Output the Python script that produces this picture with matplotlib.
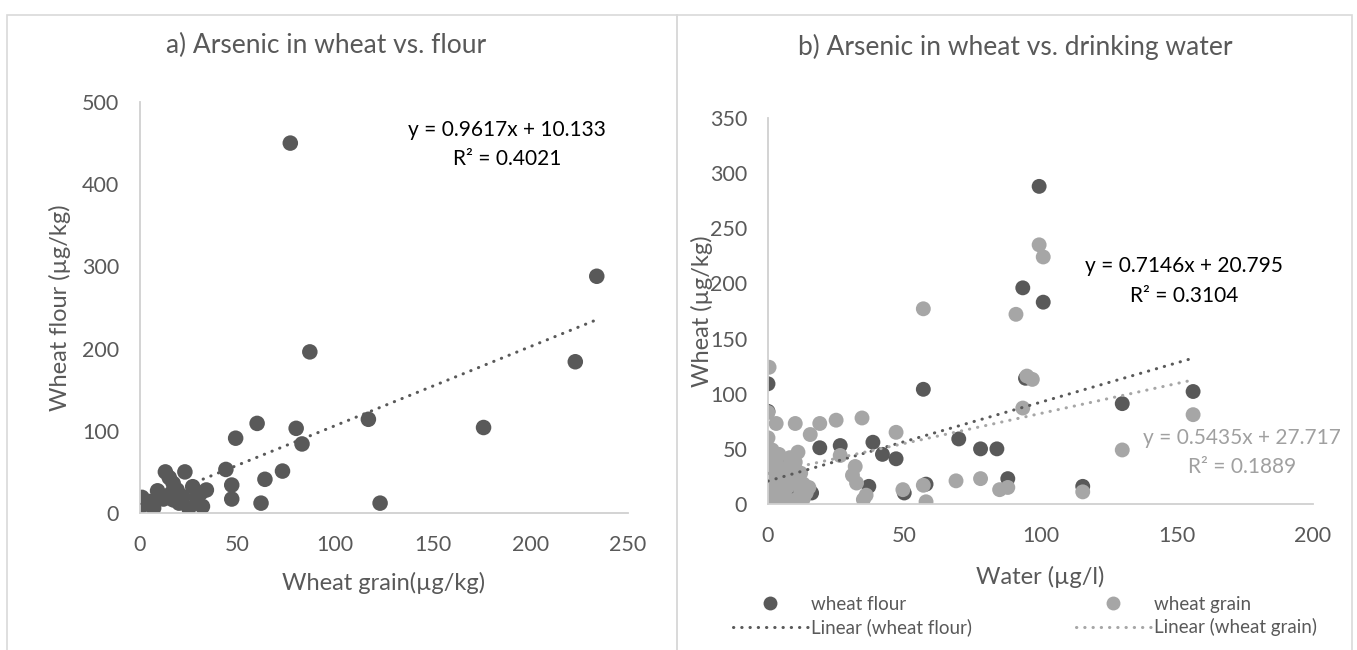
import numpy as np
import matplotlib.pyplot as plt
from matplotlib.lines import Line2D

plt.rcParams['font.family'] = ['Lato', 'DejaVu Sans']

# a) wheat grain vs wheat flour (ug/kg)
grain_a = [77, 87, 60, 49, 80, 83, 44, 47, 47, 64, 73, 62, 23, 13, 15, 17, 1, 1, 7, 9,
           16, 17, 22, 25, 27, 32, 34, 31, 12, 19, 20, 234, 223, 117, 176, 123, 5, 29]
flour_a = [450, 196, 109, 91, 103, 84, 53, 34, 17, 41, 51, 12, 50, 50, 43, 36, 19, 9, 6, 27,
           24, 16, 20, 6, 32, 8, 28, 24, 17, 28, 12, 288, 184, 114, 104, 12, 14, 18]
slope_a, icpt_a, r2_a = 0.9617, 10.133, 0.4021

# b) drinking water (ug/l) vs wheat flour / wheat grain (ug/kg)
water_flour = [0, 0, 19, 26.5, 38.5, 42, 47, 57, 58, 50, 37, 70, 78, 84, 88, 16, 93.5, 99.5,
               101, 94.5, 130, 156, 115.5, 0, 4.4, 2, 5, 8, 10, 3, 12, 6]
flour_b = [109, 84, 51, 53, 56, 45, 41, 104, 18, 10, 16, 59, 50, 50, 23, 10, 196, 288,
           183, 114, 91, 102, 16, 44, 42, 30, 20, 10, 15, 5, 12, 35]
water_grain = [0.4, 0, 3, 10, 19, 25, 34.5, 15.5, 47, 0, 1.5, 11, 26.5, 32, 31, 32.5, 36, 35,
               49.5, 57, 58, 69, 78, 85, 88, 91, 57, 99.5, 101, 95, 97, 93.5, 130, 156, 115.5,
               0, 1, 2, 0, 3, 1, 4, 2, 5, 6, 7, 8, 9, 10, 11, 12, 13, 14, 6, 4, 8, 10, 12,
               5, 9, 0, 0, 3, 7, 11, 15, 13]
grain_b = [124, 83, 73, 73, 73, 76, 78, 63, 65, 60, 49, 47, 44, 34, 26, 19, 8, 4,
           13, 17, 2, 21, 23, 13, 15, 172, 177, 235, 224, 116, 113, 87, 49, 81, 11,
           40, 35, 30, 25, 20, 15, 10, 5, 3, 8, 15, 22, 30, 38, 5, 12, 18, 10, 28, 45, 42,
           25, 28, 2, 3, 10, 3, 38, 33, 20, 15, 5]
slope_f, icpt_f, r2_f = 0.7146, 20.795, 0.3104
slope_g, icpt_g, r2_g = 0.5435, 27.717, 0.1889

DARK = '#595959'
LIGHT = '#a6a6a6'
AXIS = '#d0d0d0'
TXT = '#595959'

W, H = 1357, 650
fig = plt.figure(figsize=(W / 100, H / 100), dpi=100)


def px_axes(x0, x1, ytop, ybot):
    return fig.add_axes([x0 / W, 1 - ybot / H, (x1 - x0) / W, (ybot - ytop) / H])


def style(ax):
    for s in ['top', 'right']:
        ax.spines[s].set_visible(False)
    for s in ['left', 'bottom']:
        ax.spines[s].set_color(AXIS)
        ax.spines[s].set_linewidth(1.3)
    ax.tick_params(length=0, labelsize=15.5, labelcolor=TXT)
    ax.tick_params(axis='y', pad=15)
    ax.tick_params(axis='x', pad=16)
    ax.set_facecolor('none')


dots = dict(linestyle=(0, (0.1, 2.6)), linewidth=2.2, dash_capstyle='round')

# panel borders
for x0, x1 in [(7, 677), (677, 1352)]:
    fig.add_artist(plt.Rectangle((x0 / W, -0.05), (x1 - x0) / W, 1 - 15 / H + 0.05,
                                 transform=fig.transFigure, fill=False,
                                 edgecolor='#d9d9d9', linewidth=1.2))

# ---- panel a
ax1 = px_axes(140, 628, 102, 513)
style(ax1)
ax1.scatter(grain_a, flour_a, s=125, color=DARK, edgecolors='none', zorder=2)
xa = np.array([min(grain_a), max(grain_a)])
ax1.plot(xa, slope_a * xa + icpt_a, color=DARK, zorder=3, **dots)
ax1.set_xlim(0, 250)
ax1.set_ylim(0, 500)
ax1.set_xticks(range(0, 251, 50))
ax1.set_yticks(range(0, 501, 100))
ax1.set_xlabel('Wheat grain(µg/kg)', fontsize=17, color=TXT, labelpad=12)
ax1.set_ylabel('Wheat flour (µg/kg)', fontsize=17, color=TXT, labelpad=8)
ax1.text(188, 466, f'y = {slope_a}x + {icpt_a}', fontsize=15, ha='center', va='center')
ax1.text(188, 431, f'R² = {r2_a}', fontsize=15, ha='center', va='center')
fig.text(326 / W, 1 - 45 / H, 'a) Arsenic in wheat vs. flour', fontsize=19,
         color=TXT, ha='center', va='center')

# ---- panel b
ax2 = px_axes(768, 1313, 118, 504)
style(ax2)
ax2.scatter(water_flour, flour_b, s=115, color=DARK, edgecolors='none', zorder=2)
ax2.scatter(water_grain, grain_b, s=115, color=LIGHT, edgecolors='none', zorder=2)
xf = np.array([0, max(water_flour)])
ax2.plot(xf, slope_f * xf + icpt_f, color=DARK, zorder=3, **dots)
xg = np.array([0, max(water_grain)])
ax2.plot(xg, slope_g * xg + icpt_g, color=LIGHT, zorder=3, **dots)
ax2.set_xlim(0, 200)
ax2.set_ylim(0, 350)
ax2.set_xticks(range(0, 201, 50))
ax2.set_yticks(range(0, 351, 50))
ax2.set_xlabel('Water (µg/l)', fontsize=17, color=TXT, labelpad=14)
ax2.set_ylabel('Wheat (µg/kg)', fontsize=17, color=TXT, labelpad=-2)
ax2.text(152.7, 216, f'y = {slope_f}x + {icpt_f}', fontsize=15, ha='center', va='center')
ax2.text(152.7, 188.6, f'R² = {r2_f}', fontsize=15, ha='center', va='center')
ax2.text(174, 60, f'y = {slope_g}x + {icpt_g}', fontsize=15, color='#a0a0a0',
         ha='center', va='center', clip_on=False)
ax2.text(174, 33.5, f'R² = {r2_g}', fontsize=15, color='#a0a0a0', ha='center', va='center')
fig.text(1015 / W, 1 - 47 / H, 'b) Arsenic in wheat vs. drinking water', fontsize=19,
         color=TXT, ha='center', va='center')

handles = [
    Line2D([], [], marker='o', linestyle='none', markersize=10, color=DARK, markeredgecolor='none'),
    Line2D([], [], color=DARK, **dots),
    Line2D([], [], marker='o', linestyle='none', markersize=10, color=LIGHT, markeredgecolor='none'),
    Line2D([], [], color=LIGHT, **dots),
]
labels = ['wheat flour', 'Linear (wheat flour)', 'wheat grain', 'Linear (wheat grain)']
leg = fig.legend(handles, labels, ncol=2, frameon=False, fontsize=13.5,
                 loc='center', bbox_to_anchor=(1025 / W, 1 - 616 / H),
                 handlelength=4.0, handletextpad=0.2, columnspacing=5.5,
                 labelspacing=0.3, borderpad=0, borderaxespad=0)
for t in leg.get_texts():
    t.set_color(TXT)

fig.savefig('out.png', dpi=100)
